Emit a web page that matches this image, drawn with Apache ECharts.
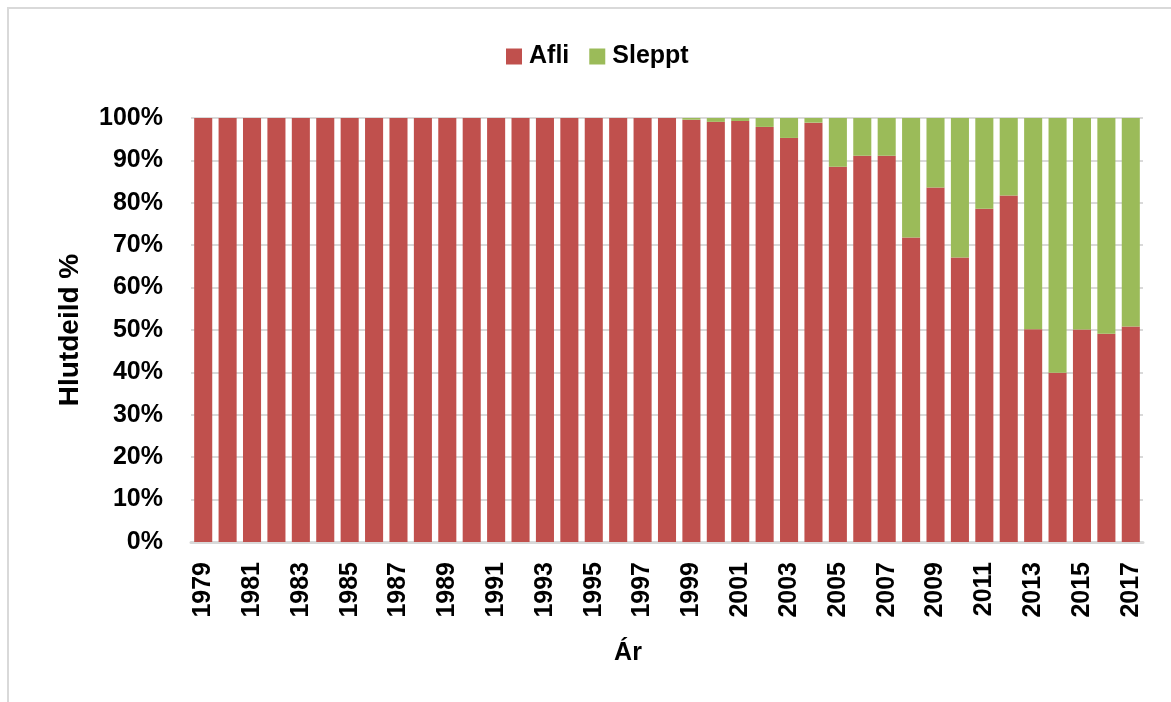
<!DOCTYPE html>
<html>
<head>
<meta charset="utf-8">
<script src="https://cdn.jsdelivr.net/npm/echarts@6/dist/echarts.min.js"></script>
<style>
  html, body { margin: 0; padding: 0; background: #fff; }
  #frame { position: absolute; left: 7px; top: 7px; width: 1200px; height: 760px; border: 2px solid #d9d9d9; box-sizing: border-box; }
  #chart { position: absolute; left: 0; top: 0; width: 1171px; height: 702px; }
</style>
</head>
<body>
<div id="frame"></div>
<div id="chart"></div>
<script>
// Years of the record
const years = [];
for (let y = 1979; y <= 2017; y++) years.push(String(y));

// Share of fish kept (Afli) and released (Sleppt), percent
const afli = [
  100, 100, 100, 100, 100, 100, 100, 100, 100, 100,
  100, 100, 100, 100, 100, 100, 100, 100, 100, 100,
  99.6, 99.1, 99.3, 97.9, 95.3, 98.9, 88.5, 91.1, 91.1, 71.8,
  83.6, 67.1, 78.6, 81.7, 50.2, 39.9, 50.1, 49.1, 50.8
];
const sleppt = [
  0, 0, 0, 0, 0, 0, 0, 0, 0, 0,
  0, 0, 0, 0, 0, 0, 0, 0, 0, 0,
  0.4, 0.9, 0.7, 2.1, 4.7, 1.1, 11.5, 8.9, 8.9, 28.2,
  16.4, 32.9, 21.4, 18.3, 49.8, 60.1, 49.9, 50.9, 49.2
];

const FONT = '"Liberation Sans", Arial, sans-serif';

const chart = echarts.init(document.getElementById('chart'), null, { renderer: 'canvas' });
chart.setOption({
  animation: false,
  backgroundColor: 'transparent',
  legend: {
    left: 506,
    top: 44,
    padding: 0,
    itemWidth: 16,
    itemHeight: 16,
    itemGap: 20,
    icon: 'rect',
    textStyle: { fontFamily: FONT, fontWeight: 'bold', fontSize: 25, color: '#000', padding: [0, 0, 0, 2] },
    data: ['Afli', 'Sleppt']
  },
  grid: { left: 191, right: 28, top: 118, bottom: 160, containLabel: false },
  xAxis: {
    type: 'category',
    data: years,
    axisLine: { lineStyle: { color: '#d9d9d9', width: 3 } },
    axisTick: { show: false },
    axisLabel: {
      interval: 1,
      rotate: 90,
      margin: 20,
      fontFamily: FONT,
      fontWeight: 'bold',
      fontSize: 25,
      color: '#000'
    }
  },
  yAxis: {
    type: 'value',
    min: 0,
    max: 100,
    interval: 10,
    axisLine: { show: false },
    axisTick: { show: false },
    splitLine: { lineStyle: { color: '#d9d9d9', width: 2 } },
    axisLabel: {
      formatter: '{value}%',
      margin: 28,
      fontFamily: FONT,
      fontWeight: 'bold',
      fontSize: 25,
      color: '#000'
    }
  },
  graphic: [
    {
      type: 'text',
      x: 70, y: 330,
      rotation: Math.PI / 2,
      style: { text: 'Hlutdeild %', fontFamily: FONT, fontWeight: 'bold', fontSize: 28, fill: '#000', textAlign: 'center', textVerticalAlign: 'middle' }
    },
    {
      type: 'text',
      x: 628, y: 653,
      style: { text: 'Ár', fontFamily: FONT, fontWeight: 'bold', fontSize: 25, fill: '#000', textAlign: 'center', textVerticalAlign: 'middle' }
    }
  ],
  series: [
    {
      name: 'Afli',
      type: 'bar',
      stack: 'hlutdeild',
      barCategoryGap: '26%',
      itemStyle: { color: '#c0504d' },
      data: afli
    },
    {
      name: 'Sleppt',
      type: 'bar',
      stack: 'hlutdeild',
      barCategoryGap: '26%',
      itemStyle: { color: '#9bbb59' },
      data: sleppt
    }
  ]
});
</script>
</body>
</html>
